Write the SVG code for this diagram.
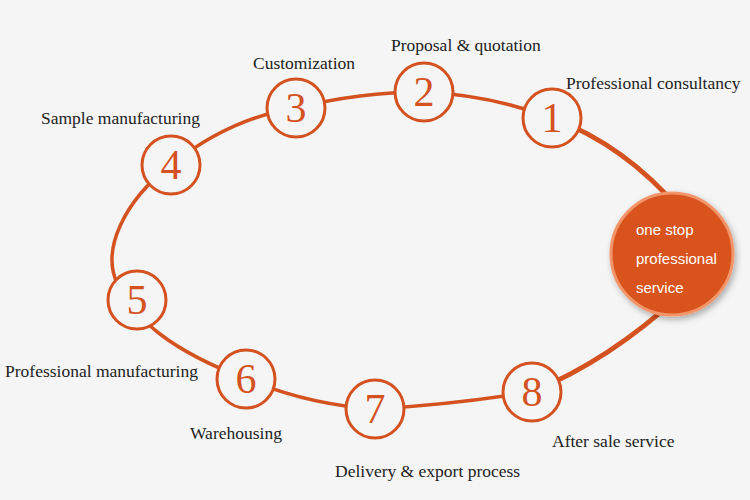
<svg xmlns="http://www.w3.org/2000/svg" width="750" height="500" viewBox="0 0 750 500">
<style>
.bg{fill:#f5f5f5}
.conn{fill:none;stroke:#d4521f;stroke-width:3.5;stroke-linecap:round}
.thick{stroke-width:5}
.step{fill:#f5f5f5;stroke:#d4521f;stroke-width:3}
.num{font-family:"Liberation Serif","Times New Roman",serif;font-size:42px;fill:#d4521f;text-anchor:middle}
.lbl{font-family:"Liberation Serif","Times New Roman",serif;font-size:17.5px;fill:#222}
.hub{fill:#d9531e;stroke:#f3956a;stroke-width:3}
.hubt{font-family:"Liberation Sans",Arial,sans-serif;font-size:15px;fill:#ffffff}
</style>
<defs>
<filter id="sh" x="-30%" y="-30%" width="160%" height="160%">
<feDropShadow dx="2" dy="3" stdDeviation="3" flood-color="#000" flood-opacity="0.3"/>
</filter>
</defs>
<rect class="bg" x="0" y="0" width="750" height="500"/>
<g id="connectors">
<path class="conn thick" d="M552 118 Q625 145 680 210"/>
<path class="conn" d="M552 118 Q490 95 424 92"/>
<path class="conn" d="M424 92 Q360 92 296 108"/>
<path class="conn" d="M296 108 Q230 118 171 165"/>
<path class="conn" d="M171 165 C125 200 100 250 118 285 S170 350 246 379"/>
<path class="conn" d="M246 379 Q310 405 375 409"/>
<path class="conn" d="M375 409 Q450 405 532 392"/>
<path class="conn thick" d="M532 392 Q610 360 680 295"/>
</g>
<g id="hub">
<circle class="hub" cx="672" cy="254" r="61" filter="url(#sh)"/>
<text class="hubt" x="636" y="235">one stop</text>
<text class="hubt" x="636" y="264">professional</text>
<text class="hubt" x="636" y="293">service</text>
</g>
<g id="step1">
<circle class="step" cx="552" cy="118" r="29"/>
<text class="num" x="552" y="132">1</text>
<text class="lbl" x="566" y="89">Professional consultancy</text>
</g>
<g id="step2">
<circle class="step" cx="424" cy="92" r="29"/>
<text class="num" x="424" y="106">2</text>
<text class="lbl" x="391" y="51">Proposal &amp; quotation</text>
</g>
<g id="step3">
<circle class="step" cx="296" cy="108" r="29"/>
<text class="num" x="296" y="122">3</text>
<text class="lbl" x="253" y="69">Customization</text>
</g>
<g id="step4">
<circle class="step" cx="171" cy="165" r="29"/>
<text class="num" x="171" y="179">4</text>
<text class="lbl" x="41" y="124">Sample manufacturing</text>
</g>
<g id="step5">
<circle class="step" cx="137" cy="300" r="29"/>
<text class="num" x="137" y="314">5</text>
<text class="lbl" x="5" y="377">Professional manufacturing</text>
</g>
<g id="step6">
<circle class="step" cx="246" cy="379" r="29"/>
<text class="num" x="246" y="393">6</text>
<text class="lbl" x="190" y="439">Warehousing</text>
</g>
<g id="step7">
<circle class="step" cx="375" cy="409" r="29"/>
<text class="num" x="375" y="423">7</text>
<text class="lbl" x="335" y="477">Delivery &amp; export process</text>
</g>
<g id="step8">
<circle class="step" cx="532" cy="392" r="29"/>
<text class="num" x="532" y="406">8</text>
<text class="lbl" x="552" y="447">After sale service</text>
</g>
</svg>
